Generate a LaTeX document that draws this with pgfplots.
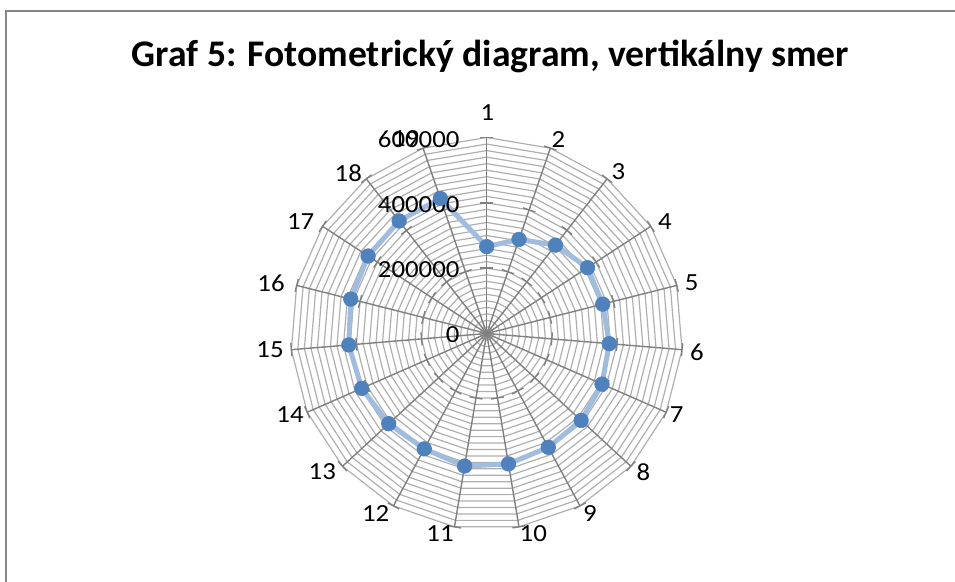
\documentclass[border=0pt]{standalone}
\usepackage{fontspec}
\setmainfont{Carlito}
\newfontfamily\lblfam[FakeStretch=1.09]{Carlito}
\usepackage{pgfplots}
\usepackage{pgfplotstable}
\pgfplotsset{compat=1.18}
\usepgfplotslibrary{polar}

\definecolor{spokec}{RGB}{128,128,128}
\definecolor{gridc}{RGB}{175,175,175}
\definecolor{framec}{RGB}{134,134,134}
\definecolor{serline}{RGB}{160,188,222}
\definecolor{sermark}{RGB}{79,129,189}

% luminous intensity per direction (cd/klm)
\pgfplotstableread{
dir value
1  266000
2  304600
3  342800
4  368500
5  366400
6  376500
7  385400
8  393000
9  396100
10 404700
11 411400
12 401600
13 407700
14 417800
15 423700
16 429200
17 433800
18 436500
19 437100
}\lumtable

\newcommand{\lblfont}{\lblfam\fontsize{24.6}{29}\selectfont}

\begin{document}
\begin{tikzpicture}
\path[use as bounding box] (0pt,0pt) rectangle (955pt,-581pt);
\draw[framec, line width=1.5pt] (6pt,-590pt) -- (6pt,-11pt) -- (960pt,-11pt);
\node[anchor=base, inner sep=0pt, font=\bfseries\fontsize{37.6}{44}\selectfont]
  at (490.5pt,-66.7pt) {Graf 5: Fotometrický diagram, vertikálny smer};

\begin{polaraxis}[
  at={(486.7pt,-333.5pt)}, anchor=center,
  scale only axis, width=392pt, height=392pt,
  xmin=0, xmax=360, ymin=0, ymax=600000,
  hide axis, clip=false,
]
  % concentric 19-gon gridlines every 20000
  \pgfplotsinvokeforeach{20000,40000,60000,80000,100000,120000,140000,160000,180000,200000,
    220000,240000,260000,280000,300000,320000,340000,360000,380000,400000,
    420000,440000,460000,480000,500000,520000,540000,560000,580000,600000}{
    \draw[gridc, line width=1.2pt, line join=miter]
      (axis cs:90,#1) \foreach \k in {1,...,18}{ -- (axis cs:{90-\k*360/19},#1) } -- cycle;
  }
  % spokes with tick marks at the major values
  \pgfplotsinvokeforeach{0,1,2,3,4,5,6,7,8,9,10,11,12,13,14,15,16,17,18}{
    \draw[spokec, line width=1.4pt] (axis cs:0,0) -- (axis cs:{90-#1*360/19},600000);
    \draw[spokec, line width=1.4pt]
      ([shift={({90-#1*360/19+90}:6.5pt)}]axis cs:{90-#1*360/19},200000) --
      ([shift={({90-#1*360/19-90}:6.5pt)}]axis cs:{90-#1*360/19},200000);
    \draw[spokec, line width=1.4pt]
      ([shift={({90-#1*360/19+90}:6.5pt)}]axis cs:{90-#1*360/19},400000) --
      ([shift={({90-#1*360/19-90}:6.5pt)}]axis cs:{90-#1*360/19},400000);
    \draw[spokec, line width=1.4pt]
      ([shift={({90-#1*360/19+90}:6.5pt)}]axis cs:{90-#1*360/19},600000) --
      ([shift={({90-#1*360/19-90}:6.5pt)}]axis cs:{90-#1*360/19},600000);
  }

  \addplot[serline, line width=5pt, line join=round,
    mark=*, mark size=7.3pt,
    mark options={fill=sermark, draw=sermark, line width=0.6pt}]
    table[x expr={90-\coordindex*360/19}, y=value]{\lumtable} -- cycle;

  % value axis labels
  \node[anchor=east, inner sep=0pt, font=\lblfont] at ([xshift=-27pt,yshift=-1.5pt]axis cs:90,0) {0};
  \node[anchor=east, inner sep=0pt, font=\lblfont] at ([xshift=-27pt,yshift=-1.5pt]axis cs:90,200000) {200000};
  \node[anchor=east, inner sep=0pt, font=\lblfont] at ([xshift=-27pt,yshift=-1.5pt]axis cs:90,400000) {400000};
  \node[anchor=east, inner sep=0pt, font=\lblfont] at ([xshift=-27pt,yshift=-1.5pt]axis cs:90,600000) {600000};
\end{polaraxis}

% direction labels
\foreach \k/\x/\y in {1/487.3/112.7, 2/558.3/140, 3/618.3/171.7, 4/665/221.7,
    5/691.7/282.7, 6/697/352, 7/676.7/415, 8/643.3/471.7, 9/590/513.3,
    10/533.3/533.3, 11/440/533.3, 12/375.7/513.3, 13/322.3/471.7, 14/290/415,
    15/270/350, 16/271/283, 17/300.7/221.7, 18/348.3/173.3, 19/405.7/138.5}{
  \node[inner sep=0pt, font=\lblfont] at (\x pt,-\y pt) {\k};
}
\end{tikzpicture}
\end{document}
